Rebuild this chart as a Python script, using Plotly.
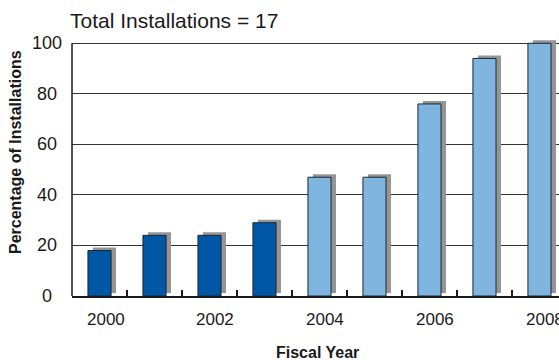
import plotly.graph_objects as go

years = [2000, 2001, 2002, 2003, 2004, 2005, 2006, 2007, 2008]
pct = [18, 24, 24, 29, 47, 47, 76, 94, 100]
phase = ["early", "early", "early", "early", "late", "late", "late", "late", "late"]
x_tick_years = [2000, 2002, 2004, 2006, 2008]
y_ticks = [0, 20, 40, 60, 80, 100]
title_text = "Total Installations = 17"
x_title = "Fiscal Year"
y_title = "Percentage of Installations"

phase_color = {"early": "#0057A6", "late": "#80B5E0"}
bar_w = 0.42
shadow_dx = 0.09
shadow_dy = 1.2
y_top = 101.3  # small headroom so the shadow of the 100% bar is not clipped

fig = go.Figure()
fig.add_trace(go.Bar(
    x=years, y=pct, base=shadow_dy, width=bar_w, offset=-bar_w / 2 + shadow_dx,
    marker=dict(color="#959595", line=dict(width=0)), hoverinfo="skip", showlegend=False,
))
fig.add_trace(go.Bar(
    x=years, y=pct, width=bar_w, offset=-bar_w / 2,
    marker=dict(color=[phase_color[p] for p in phase], line=dict(color="#1c2633", width=1)),
    showlegend=False,
))

font = "Liberation Sans, Arial, sans-serif"
fig.update_layout(
    width=559, height=360, barmode="overlay",
    margin=dict(l=72, r=0, t=40, b=64),
    paper_bgcolor="white", plot_bgcolor="white",
    font=dict(family=font, color="#1a1a1a"),
    showlegend=False,
    xaxis=dict(
        range=[1999.5, 2008.355], tickmode="array", tickvals=[y + 0.5 for y in years[:-1]],
        showticklabels=False, ticks="inside", ticklen=6, tickwidth=1.5, tickcolor="#1a1a1a",
        showgrid=False, showline=True, linecolor="#1a1a1a", linewidth=1.5, zeroline=False,
        automargin=False, fixedrange=True,
    ),
    yaxis=dict(
        range=[0, y_top], tickmode="array", tickvals=y_ticks, showticklabels=False, ticks="",
        showgrid=True, gridcolor="#333333", gridwidth=1, zeroline=False,
        showline=False, automargin=False,
    ),
    title=dict(text=title_text, x=70 / 559, xref="container", xanchor="left",
               y=1 - 21 / 360, yref="container", yanchor="middle",
               font=dict(size=21, family=font, color="#1a1a1a")),
)

fig.add_shape(type="line", xref="paper", yref="y", x0=0, x1=0, y0=0, y1=max(y_ticks),
              line=dict(color="#1a1a1a", width=1.5), layer="above")

for v in y_ticks:
    fig.add_annotation(x=(47 - 72) / 487, xref="paper", y=v, yref="y", text=str(v),
                       showarrow=False, xanchor="center", yanchor="middle",
                       font=dict(size=18, family=font, color="#1a1a1a"))

for yr in x_tick_years:
    fig.add_annotation(x=yr, xref="x", y=(296 - 319) / 256, yref="paper", text=str(yr),
                       showarrow=False, xanchor="center", yanchor="middle", xshift=6,
                       font=dict(size=17, family=font, color="#1a1a1a"))

fig.add_annotation(x=(317 - 72) / 487, xref="paper", y=(296 - 352) / 256, yref="paper",
                   text="<b>" + x_title + "</b>", showarrow=False, xanchor="center", yanchor="middle",
                   font=dict(size=16, family=font, color="#1a1a1a"))
fig.add_annotation(x=(15 - 72) / 487, xref="paper", y=(296 - 152) / 256, yref="paper",
                   text="<b>" + y_title + "</b>", showarrow=False, textangle=-90,
                   xanchor="center", yanchor="middle",
                   font=dict(size=16, family=font, color="#1a1a1a"))

fig.write_html("out.html")
